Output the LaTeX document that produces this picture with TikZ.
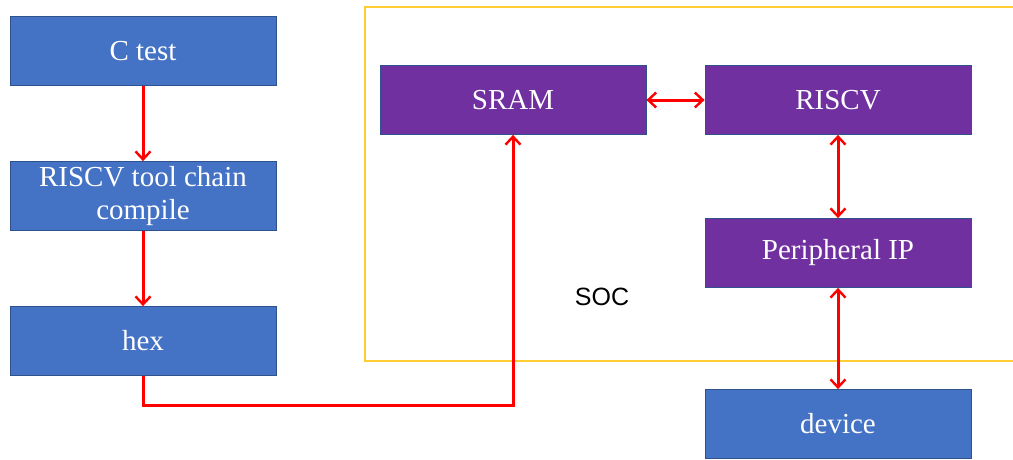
\documentclass[tikz,border=0pt]{standalone}
\usepackage{fontspec}
\setmainfont{Liberation Serif}
\newfontfamily\labelsans{Liberation Sans}
\usetikzlibrary{arrows.meta}
\definecolor{flowblue}{HTML}{4472C4}
\definecolor{socpurple}{HTML}{7030A0}
\definecolor{edgeblue}{HTML}{2F528F}
\definecolor{socyellow}{HTML}{FFC000}
\begin{document}
\begin{tikzpicture}[x=1pt,y=-1pt,
  block/.style={draw=edgeblue,line width=0.8pt,minimum width=266pt,minimum height=69pt,
    inner sep=0pt,text=white,align=center,font=\fontsize{29}{33}\selectfont},
  bluebox/.style={block,fill=flowblue},
  purplebox/.style={block,fill=socpurple},
  link/.style={draw=red,line width=3pt},
  flow/.style={link,-{Straight Barb[length=8pt,width=15pt,line width=2.4pt]}},
  both/.style={link,{Straight Barb[length=8pt,width=15pt,line width=2.4pt]}-{Straight Barb[length=8pt,width=15pt,line width=2.4pt]}}]
\useasboundingbox (0,0) rectangle (1013,459);
% SoC outline (runs off the right edge)
\draw[socyellow!80!white,line width=1.2pt] (1020,7) -- (365,7) -- (365,361) -- (1020,361);
\node[font=\labelsans\fontsize{25}{28}\selectfont] (soc) at (602,297) {SOC};
% software flow
\node[bluebox] (ctest) at (143,51) {C test};
\node[bluebox] (tool) at (143,196) {RISCV tool chain\\compile};
\node[bluebox] (hex) at (143,341) {hex};
% SoC blocks
\node[purplebox] (sram) at (513,100) {SRAM};
\node[purplebox] (riscv) at (838,100) {RISCV};
\node[purplebox] (periph) at (838,253) {Peripheral IP};
\node[bluebox] (device) at (838,424) {device};
% connectors
\draw[flow] (ctest) -- (tool);
\draw[flow] (tool) -- (hex);
\coordinate (turnA) at (143,405);
\coordinate (turnB) at (513,405);
\draw[flow,line join=miter] (hex.south) -- (turnA) -- (turnB) -- (sram.south);
\draw[both] (sram) -- (riscv);
\draw[both] (riscv) -- (periph);
\draw[both] (periph) -- (device);
\end{tikzpicture}
\end{document}
